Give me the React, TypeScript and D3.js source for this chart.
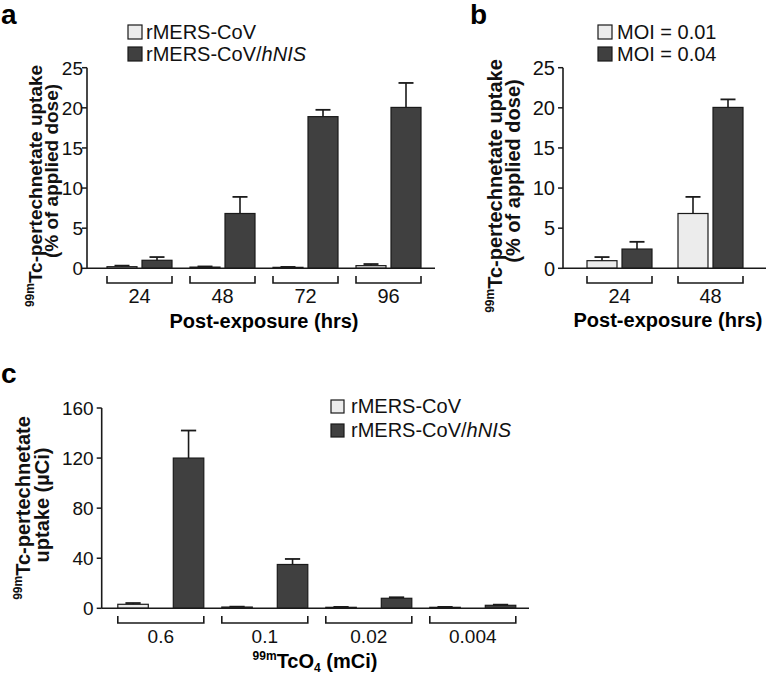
import React from 'react';
import * as d3 from 'd3';

// Panel a
const catsA = ['24', '48', '72', '96'];
const aCtrl = [0.2, 0.15, 0.12, 0.33];
const aCtrlErr = [0.13, 0.08, 0.05, 0.2];
const aNis = [1.0, 6.83, 18.9, 20.05];
const aNisErr = [0.4, 2.07, 0.85, 3.05];
const ticksA = [0, 5, 10, 15, 20, 25];

// Panel b
const catsB = ['24', '48'];
const bMoi1 = [0.95, 6.83];
const bMoi1Err = [0.45, 2.07];
const bMoi4 = [2.4, 20.05];
const bMoi4Err = [0.9, 1.0];

// Panel c
const catsC = ['0.6', '0.1', '0.02', '0.004'];
const cCtrl = [3.2, 1.0, 0.8, 0.8];
const cCtrlErr = [1.0, 0.3, 0.3, 0.3];
const cNis = [120, 35, 8, 2.4];
const cNisErr = [22, 4.4, 0.8, 0.5];
const ticksC = [0, 40, 80, 120, 160];

const LIGHT = '#ececec';
const DARK = '#404040';
const STROKE = '#1a1a1a';
const FONT = '"Liberation Sans", Arial, Helvetica, sans-serif';

type PanelProps = {
  cats: string[];
  series: { vals: number[]; errs: number[]; fill: string }[];
  yMax: number;
  ticks: number[];
  axisX: number;
  axisEnd: number;
  y0: number;
  y1: number;
  bandRange: [number, number];
  padInner: number;
  padOuter: number;
  subPad: number;
  bracketY: number;
  labelY: number;
  tickFont: number;
  catFont: number;
  tickGap: number;
};

function Panel(p: PanelProps) {
  const y = d3.scaleLinear().domain([0, p.yMax]).range([p.y0, p.y1]);
  const x = d3.scaleBand<string>().domain(p.cats).range(p.bandRange).paddingInner(p.padInner).paddingOuter(p.padOuter);
  const sub = d3.scaleBand<string>().domain(p.series.map((_, i) => 's' + i)).range([0, x.bandwidth()]).paddingInner(p.subPad);
  return (
    <g>
      {p.cats.map((c, ci) =>
        p.series.map((s, si) => {
          const bx = (x(c) as number) + (sub('s' + si) as number);
          const bw = sub.bandwidth();
          const top = y(s.vals[ci]);
          const cap = y(s.vals[ci] + s.errs[ci]);
          const cx = bx + bw / 2;
          return (
            <g key={c + si}>
              <line x1={cx} x2={cx} y1={top} y2={cap} stroke={STROKE} strokeWidth={1.6} />
              <line x1={cx - bw / 4} x2={cx + bw / 4} y1={cap} y2={cap} stroke={STROKE} strokeWidth={1.8} />
              <rect x={bx} y={top} width={bw} height={p.y0 - top} fill={s.fill} stroke={STROKE} strokeWidth={1.2} />
            </g>
          );
        })
      )}
      <line x1={p.axisX} x2={p.axisEnd} y1={p.y0} y2={p.y0} stroke={STROKE} strokeWidth={1.6} />
      <line x1={p.axisX} x2={p.axisX} y1={p.y0} y2={p.y1} stroke={STROKE} strokeWidth={1.6} />
      {p.ticks.map((t) => (
        <g key={t}>
          <line x1={p.axisX - 5} x2={p.axisX} y1={y(t)} y2={y(t)} stroke={STROKE} strokeWidth={1.5} />
          <text x={p.axisX - p.tickGap} y={y(t)} dy="0.36em" textAnchor="end" fontSize={p.tickFont} fill="#111">
            {t}
          </text>
        </g>
      ))}
      {p.cats.map((c) => {
        const l = x(c) as number;
        const r = l + x.bandwidth();
        return (
          <g key={'b' + c}>
            <path d={`M${l},${p.bracketY - 7}V${p.bracketY}H${r}V${p.bracketY - 7}`} fill="none" stroke={STROKE} strokeWidth={1.6} />
            <text x={(l + r) / 2} y={p.labelY} textAnchor="middle" fontSize={p.catFont} fill="#111">
              {c}
            </text>
          </g>
        );
      })}
    </g>
  );
}

function Legend({ x, y, labels, size, font, textDx, gap }: { x: number; y: number; labels: React.ReactNode[]; size: number; font: number; textDx: number; gap: number }) {
  const fills = [LIGHT, DARK];
  return (
    <g>
      {labels.map((l, i) => (
        <g key={i}>
          <rect x={x} y={y + i * gap} width={size} height={size} fill={fills[i]} stroke={STROKE} strokeWidth={1.2} />
          <text x={x + textDx} y={y + i * gap + size} fontSize={font} fill="#111">
            {l}
          </text>
        </g>
      ))}
    </g>
  );
}

function YTitle({ x1, c1, x2, c2, line1, line2, size }: { x1: number; c1: number; x2: number; c2: number; line1: string; line2: string; size: number }) {
  return (
    <g fontWeight="bold" fill="#111">
      <text transform={`translate(${x1},${c1}) rotate(-90)`} textAnchor="middle" fontSize={size}>
        <tspan fontSize={12} dy={-8}>99m</tspan>
        <tspan dy={8}>{line1}</tspan>
      </text>
      <text transform={`translate(${x2},${c2}) rotate(-90)`} textAnchor="middle" fontSize={size}>
        {line2}
      </text>
    </g>
  );
}

export default function App() {
  return (
    <svg width={766} height={675} style={{ display: 'block', position: 'absolute', left: 0, top: 0 }} fontFamily={FONT}>
      <rect width={766} height={675} fill="#fff" />
      {/* Panel a */}
      <text x={1} y={24} fontSize={28} fontWeight="bold">a</text>
      <Panel
        cats={catsA}
        series={[
          { vals: aCtrl, errs: aCtrlErr, fill: LIGHT },
          { vals: aNis, errs: aNisErr, fill: DARK },
        ]}
        yMax={25}
        ticks={ticksA}
        axisX={87}
        axisEnd={435}
        y0={268.3}
        y1={67.7}
        bandRange={[98, 430]}
        padInner={18 / 83}
        padOuter={9 / 83}
        subPad={0.143}
        bracketY={283}
        labelY={303}
        tickFont={19}
        catFont={20}
        tickGap={4}
      />
      <Legend x={128} y={25} size={14} font={20} textDx={18} gap={22} labels={['rMERS-CoV', <>rMERS-CoV/<tspan fontStyle="italic">hNIS</tspan></>]} />
      <text x={264} y={328} textAnchor="middle" fontSize={20} fontWeight="bold">Post-exposure (hrs)</text>
      <YTitle x1={42} c1={186} x2={58} c2={171} size={19} line1="Tc-pertechnetate uptake" line2="(% of applied dose)" />

      {/* Panel b */}
      <text x={470} y={24} fontSize={28} fontWeight="bold">b</text>
      <Panel
        cats={catsB}
        series={[
          { vals: bMoi1, errs: bMoi1Err, fill: LIGHT },
          { vals: bMoi4, errs: bMoi4Err, fill: DARK },
        ]}
        yMax={25}
        ticks={ticksA}
        axisX={563}
        axisEnd={766}
        y0={268.3}
        y1={67.7}
        bandRange={[574, 756]}
        padInner={26 / 91}
        padOuter={13 / 91}
        subPad={0.143}
        bracketY={283}
        labelY={303}
        tickFont={20}
        catFont={20}
        tickGap={8}
      />
      <Legend x={598} y={25} size={14} font={20} textDx={19} gap={22} labels={['MOI = 0.01', 'MOI = 0.04']} />
      <text x={668} y={327} textAnchor="middle" fontSize={20} fontWeight="bold">Post-exposure (hrs)</text>
      <YTitle x1={502} c1={186} x2={520} c2={171} size={20} line1="Tc-pertechnetate uptake" line2="(% of applied dose)" />

      {/* Panel c */}
      <text x={1} y={383} fontSize={28} fontWeight="bold">c</text>
      <Panel
        cats={catsC}
        series={[
          { vals: cCtrl, errs: cCtrlErr, fill: LIGHT },
          { vals: cNis, errs: cNisErr, fill: DARK },
        ]}
        yMax={160}
        ticks={ticksC}
        axisX={101.7}
        axisEnd={529}
        y0={608.3}
        y1={408}
        bandRange={[108.8, 524.8]}
        padInner={18 / 104}
        padOuter={9 / 104}
        subPad={0.4505}
        bracketY={623}
        labelY={643}
        tickFont={19}
        catFont={19}
        tickGap={8}
      />
      <Legend x={331} y={400} size={13} font={20} textDx={20} gap={24} labels={['rMERS-CoV', <>rMERS-CoV/<tspan fontStyle="italic">hNIS</tspan></>]} />
      <text x={315} y={668} textAnchor="middle" fontSize={20} fontWeight="bold">
        <tspan fontSize={12} dy={-8}>99m</tspan>
        <tspan dy={8}>TcO</tspan>
        <tspan fontSize={12} dy={4}>4</tspan>
        <tspan dy={-4}> (mCi)</tspan>
      </text>
      <YTitle x1={30} c1={508} x2={49} c2={505} size={20} line1="Tc-pertechnetate" line2="uptake (µCi)" />
    </svg>
  );
}
